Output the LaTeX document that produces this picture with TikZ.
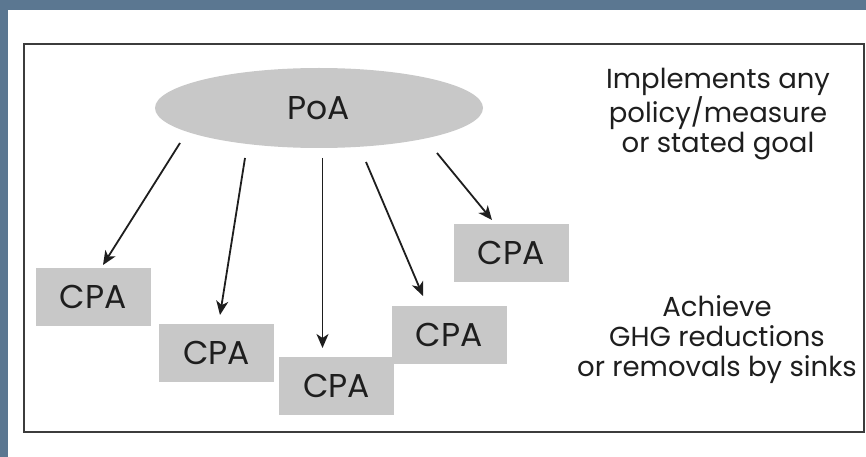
\documentclass[tikz,border=0pt]{standalone}
\usepackage{fontspec}
\setmainfont{Poppins}
\usetikzlibrary{arrows.meta,shapes.geometric}
\definecolor{bgblue}{HTML}{5B7791}
\definecolor{boxgray}{HTML}{C8C8C8}
\definecolor{framegray}{HTML}{3C3C3C}
\definecolor{inkgray}{HTML}{1E1E1E}
\tikzset{
  cpabox/.style={fill=boxgray, minimum width=115pt, minimum height=58pt, inner sep=0pt, text=inkgray, font=\fontsize{33}{33}\selectfont},
  poaell/.style={ellipse, fill=boxgray, minimum width=328pt, minimum height=80pt, inner sep=0pt, text=inkgray, font=\fontsize{33}{33}\selectfont},
  arr/.style={line width=1.8pt, inkgray, -{Stealth[length=14pt,width=12pt,inset=4pt]}},
  sidetext/.style={align=center, text=inkgray, font=\fontsize{27.5}{30}\selectfont, inner sep=0pt}
}
\begin{document}
\begin{tikzpicture}[x=1pt,y=-1pt]
\useasboundingbox (0,0) rectangle (866,457);
\fill[bgblue] (0,0) rectangle (866,457);
\fill[white] (8,10) rectangle (866,457);
\draw[framegray, line width=2.5pt] (24,44) rectangle (864,432);
\node[poaell] (poa) at (319,108) {PoA};
\node[cpabox] (c1) at (93,296.5) {CPA};
\node[cpabox] (c2) at (216.5,352.5) {CPA};
\node[cpabox] (c3) at (336.5,386) {CPA};
\node[cpabox] (c4) at (449,335) {CPA};
\node[cpabox] (c5) at (511,253) {CPA};
\coordinate (s1) at (180,143);
\coordinate (s2) at (245,158);
\coordinate (s3) at (322.5,158);
\coordinate (s4) at (366,162);
\coordinate (s5) at (437,153);
\coordinate (e1) at (103,265);
\coordinate (e2) at (220,315);
\coordinate (e3) at (322.5,348);
\coordinate (e4) at (423,296);
\coordinate (e5) at (492,220);
\draw[arr] (s1) -- (e1);
\draw[arr] (s2) -- (e2);
\draw[arr] (s3) -- (e3);
\draw[arr] (s4) -- (e4);
\draw[arr] (s5) -- (e5);
\node[sidetext] (t1) at (718,114) {Implements any\\policy/measure\\or stated goal};
\node[sidetext] (t2) at (717,340) {Achieve\\GHG reductions\\or removals by sinks};
\end{tikzpicture}
\end{document}
